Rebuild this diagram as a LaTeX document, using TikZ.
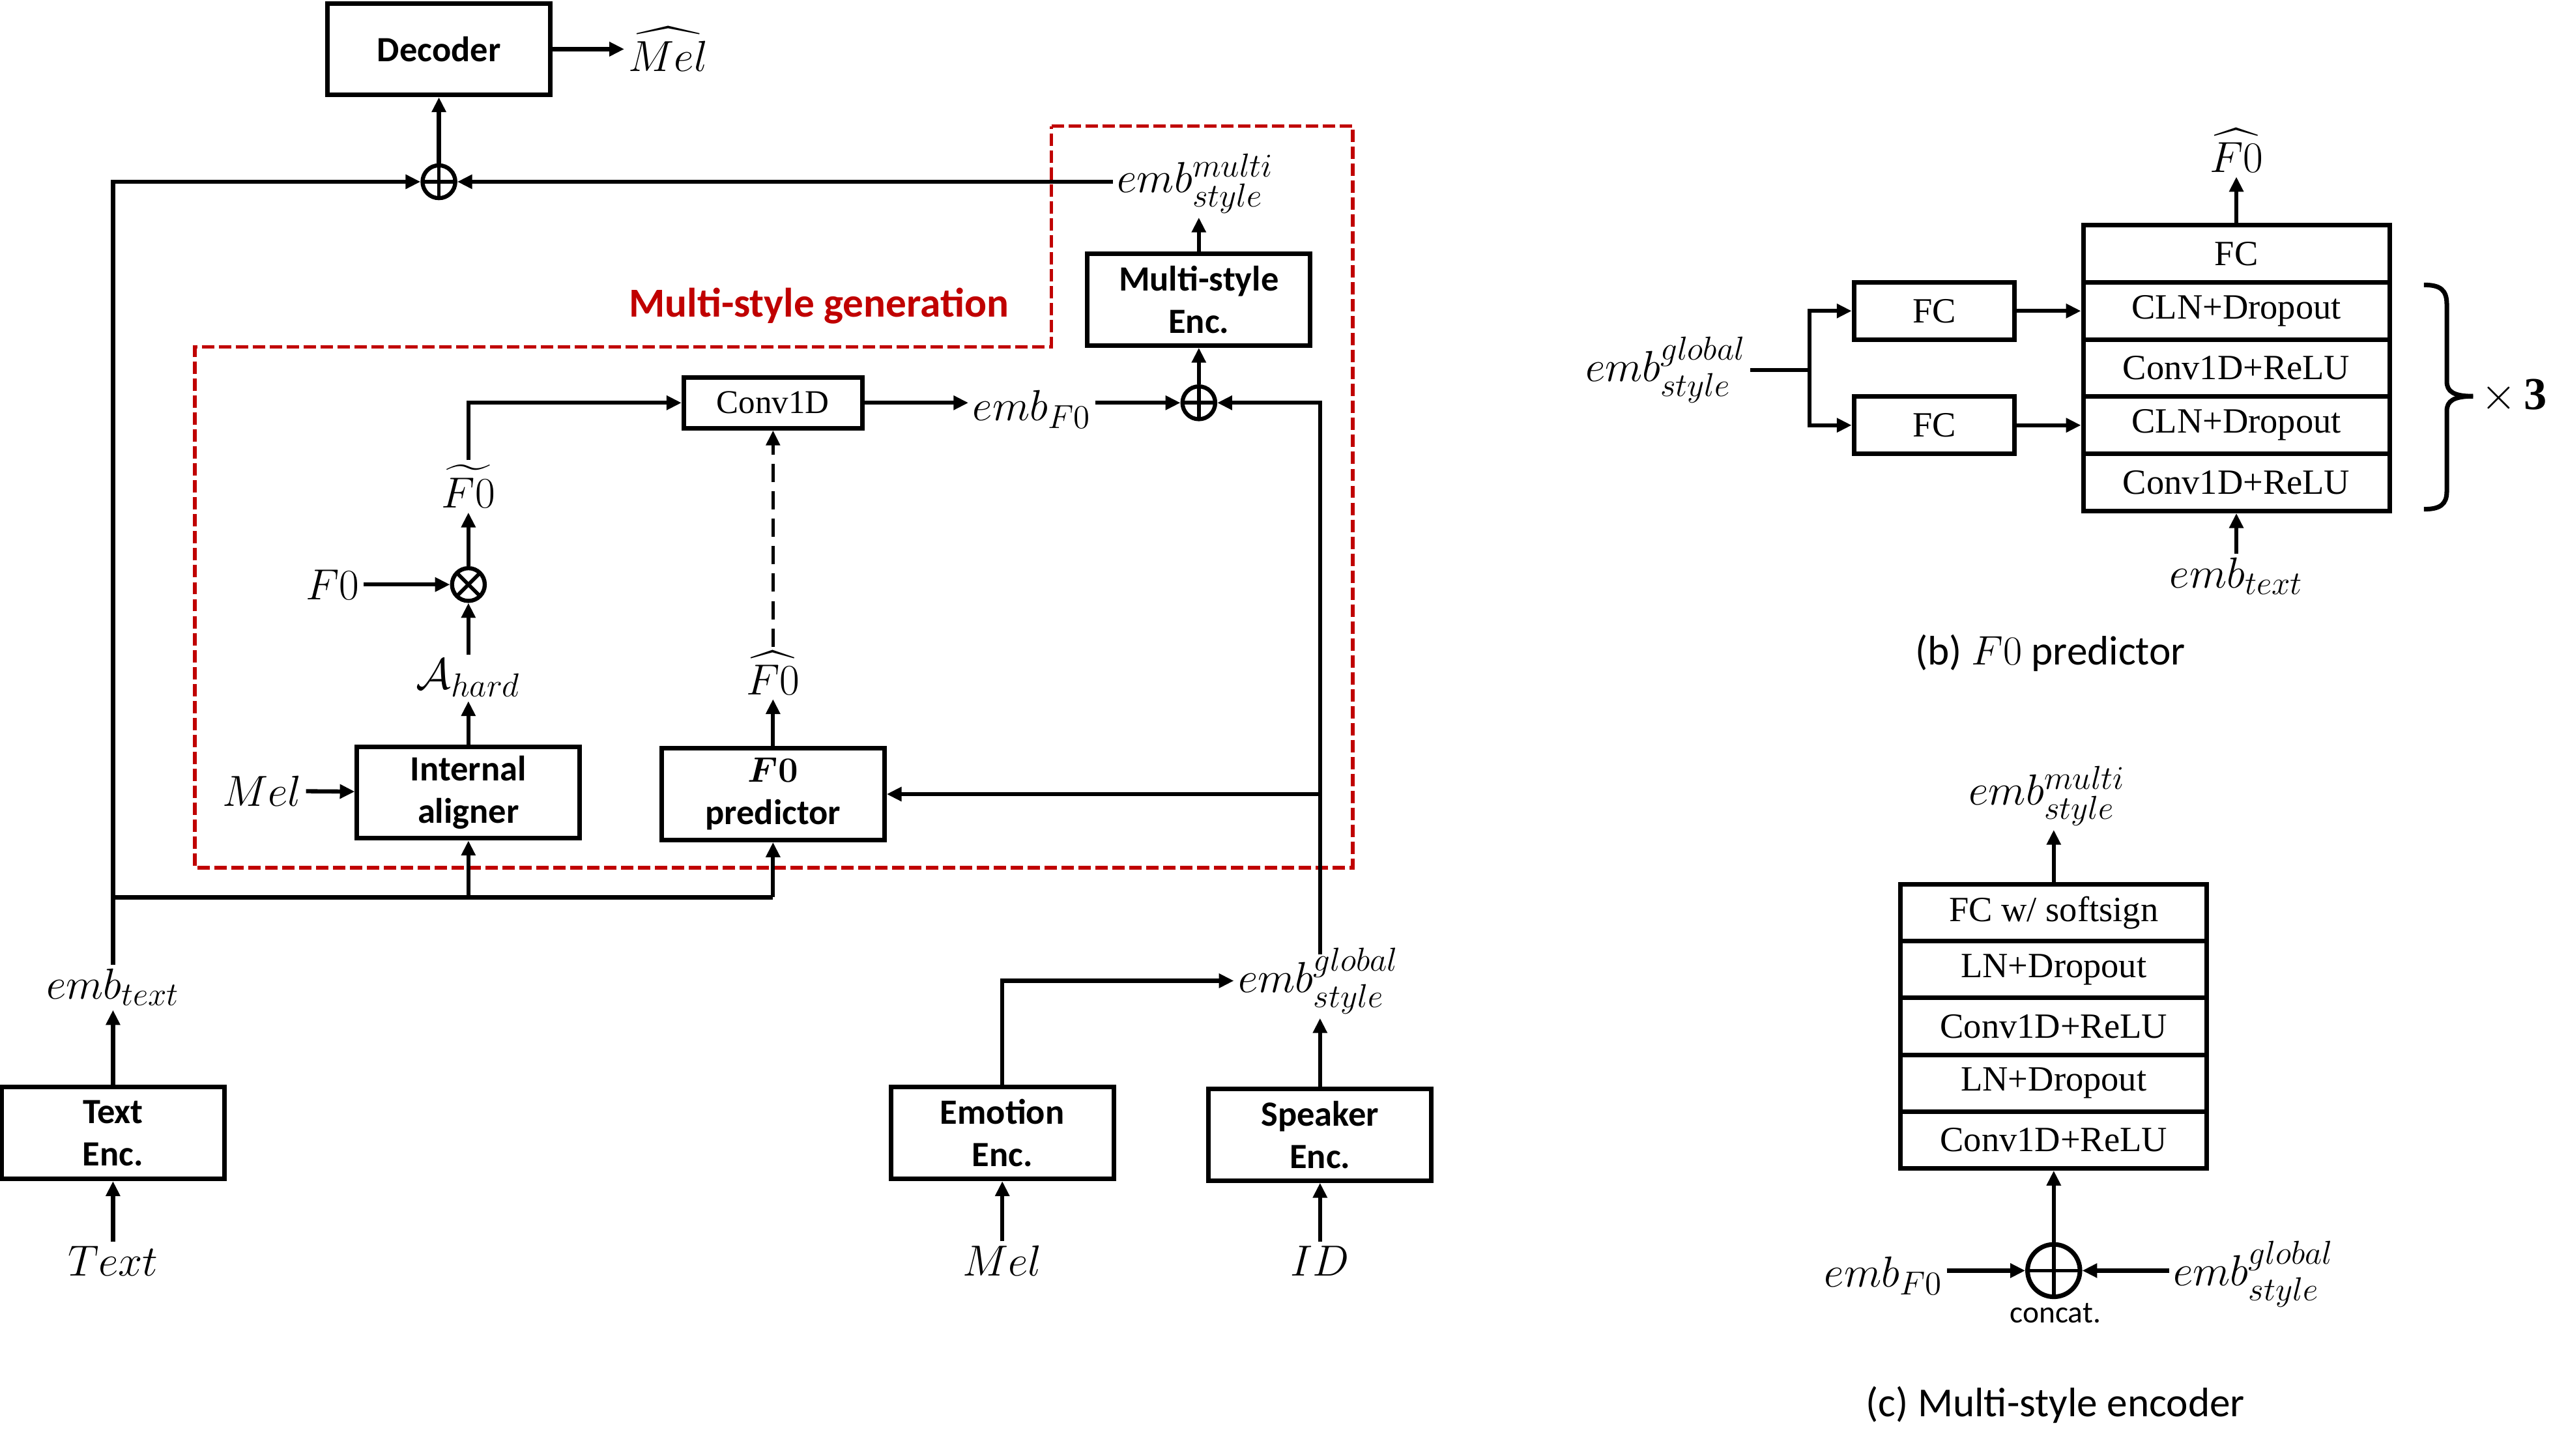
\RequirePackage{fix-cm}
\documentclass[tikz,border=0pt]{standalone}
\usepackage{amsmath,amssymb}
\usepackage{fontspec}
\newfontfamily\carl{Carlito}
\newfontfamily\tnr{Liberation Serif}
\usetikzlibrary{arrows.meta,calc}
\newcommand{\spx}{0.025134cm}
\definecolor{msred}{HTML}{C00000}
\DeclareMathSizes{19}{19}{14.5}{11}
\tikzset{
  blk/.style={draw, line width=2pt, minimum width=136*\spx, minimum height=56*\spx, inner sep=0pt, align=center, font={\carl\bfseries\fontsize{15.5}{18.5}\selectfont}},
  convbox/.style={draw, line width=2pt, minimum width=109*\spx, minimum height=31*\spx, inner sep=0pt, font={\tnr\fontsize{14.5}{17}\selectfont}},
  layer/.style={draw, line width=2pt, minimum width=187*\spx, minimum height=34.9*\spx, inner sep=0pt, font={\tnr\fontsize{15.5}{18}\selectfont}},
  fcbox/.style={draw, line width=2pt, minimum width=98*\spx, minimum height=35*\spx, inner sep=0pt, font={\tnr\fontsize{15.5}{18}\selectfont}},
  lab/.style={inner sep=1pt, font={\fontsize{19}{22}\selectfont}},
  capt/.style={inner sep=1pt, font={\carl\fontsize{18}{21}\selectfont}},
  oplus/.style={circle, draw, line width=1.8pt, minimum size=20*\spx, inner sep=0pt,
    path picture={\draw[line width=1.6pt] (path picture bounding box.north) -- (path picture bounding box.south) (path picture bounding box.west) -- (path picture bounding box.east);}},
  otimes/.style={circle, draw, line width=1.8pt, minimum size=20*\spx, inner sep=0pt,
    path picture={\draw[line width=1.6pt] (path picture bounding box.north west) -- (path picture bounding box.south east) (path picture bounding box.north east) -- (path picture bounding box.south west);}},
  reddash/.style={draw=msred, line width=1.5pt, dash pattern=on 5.4pt off 2pt},
  blackdash/.style={line width=1.4pt, dash pattern=on 8pt off 4pt}
}
\begin{document}
\begin{tikzpicture}[x=0.025134cm, y=-0.025134cm, line width=1.8pt, >={Triangle[length=6.5pt,width=6pt]}]
\useasboundingbox (0,0) rectangle (1568,889);

% ---------------- main diagram ----------------
\node[blk] (dec) at (268,30) {Decoder};
\node[lab] (melhat) at (408,30) {$\widehat{Mel}$};
\draw[->] (dec) -- (melhat);

\node[oplus] (s1) at (268,111) {};
\draw[->] (s1) -- (dec);

\node[lab] (embmulti) at (730,112) {$emb^{multi}_{style}$};
\draw[->] (embmulti.west |- s1) -- (s1);

\draw[reddash] (642,77) -- (826,77) -- (826,530) -- (119,530) -- (119,212) -- (642,212) -- cycle;
\node[inner sep=1pt, text=msred, font={\carl\bfseries\fontsize{18}{21}\selectfont}] (msg) at (500,187) {Multi-style generation};

\node[blk] (mse) at (732,183) {Multi-style\\Enc.};
\draw[->] (mse.north) -- (mse.north |- embmulti.south);

\node[oplus] (s2) at (732,246) {};
\draw[->] (s2) -- (mse);

\node[convbox] (conv) at (472,246) {Conv1D};
\node[lab] (embf0) at (630,250) {$emb_{F0}$};
\draw[->] (conv.east) -- (conv.east -| embf0.west);
\draw[->] (embf0.east |- s2) -- (s2);

\node[lab] (f0t) at (286,297) {$\widetilde{F0}$};
\draw[->] (f0t.north) |- (conv);

\node[otimes] (mul) at (286,357) {};
\draw[->] (mul) -- (f0t);
\node[lab] (f0in) at (203,357) {$F0$};
\draw[->] (f0in) -- (mul);

\node[lab] (ahard) at (286,414) {$\mathcal{A}_{hard}$};
\draw[->] (ahard) -- (mul);

\node[blk] (ia) at (286,484) {Internal\\aligner};
\draw[->] (ia) -- (ahard);
\node[lab] (melin) at (160,483) {$Mel$};
\draw[->] (melin) -- (ia);

\node[blk] (f0p) at (472,485) {{\boldmath$F0$}\\predictor};
\node[lab] (f0h) at (472,411) {$\widehat{F0}$};
\draw[->] (f0p) -- (f0h);
\draw[->, blackdash] (f0h) -- (conv);

% text branch
\node[blk] (tenc) at (69,692) {Text\\Enc.};
\node[lab] (txt) at (69,770) {$Text$};
\draw[->] (txt) -- (tenc);
\node[lab] (embtext) at (69,603) {$emb_{text}$};
\draw[->] (tenc) -- (embtext);
\draw[->] (embtext.north) |- (s1);
\coordinate (j1) at (69,548);
\coordinate (j2) at (472,548);
\draw (j1) -- (j2);
\draw[->] (j1 -| ia) -- (ia);
\draw[->] (j2) -- (f0p);

% style branch
\node[blk] (emo) at (612,692) {Emotion\\Enc.};
\node[lab] (melemo) at (612,770) {$Mel$};
\draw[->] (melemo) -- (emo);
\node[blk] (spk) at (806,693) {Speaker\\Enc.};
\node[lab] (idin) at (806,770) {$ID$};
\draw[->] (idin) -- (spk);
\node[lab] (embglob) at (805,599) {$emb^{global}_{style}$};
\draw[->] (spk) -- (spk.north |- embglob.south);
\draw[->] (emo.north) |- (embglob.west);
\coordinate (gtop) at (806,583);
\draw[->] (gtop) |- (s2);
\draw[->] (gtop |- f0p) -- (f0p);

% ---------------- (b) F0 predictor ----------------
\node[layer] (bfc) at (1365.5,155.0) {FC};
\node[layer] (bcln1) at (1365.5,189.9) {CLN+Dropout};
\node[layer] (bconv1) at (1365.5,224.8) {Conv1D+ReLU};
\node[layer] (bcln2) at (1365.5,259.7) {CLN+Dropout};
\node[layer] (bconv2) at (1365.5,294.6) {Conv1D+ReLU};
\node[lab] (bf0h) at (1365.5,92) {$\widehat{F0}$};
\draw[->] (bfc) -- (bf0h);
\node[lab] (bembt) at (1365.5,352) {$emb_{text}$};
\draw[->] (bembt) -- (bconv2);
\node[fcbox] (bfc1) at (1181,189.9) {FC};
\node[fcbox] (bfc2) at (1181,259.7) {FC};
\draw[->] (bfc1) -- (bcln1);
\draw[->] (bfc2) -- (bcln2);
\node[lab] (bembg) at (1017,226) {$emb^{global}_{style}$};
\coordinate (bsplit) at (1105,226);
\draw (bembg.east |- bsplit) -- (bsplit);
\draw[->] (bsplit) |- (bfc1);
\draw[->] (bsplit) |- (bfc2);
\draw[line width=2pt] (1480,174) .. controls (1490,174) and (1494,177) .. (1494,186) -- (1494,233) .. controls (1494,239) and (1498,242) .. (1510,242);
\draw[line width=2pt] (1510,242) .. controls (1498,242) and (1494,245) .. (1494,251) -- (1494,300) .. controls (1494,308) and (1490,311) .. (1480,311);
\node[inner sep=1pt, font={\fontsize{20}{24}\selectfont}] (times3) at (1535,242) {$\times$\,{\tnr\bfseries 3}};
\node[capt] (capb) at (1252,399) {(b) $F0$ predictor};

% ---------------- (c) Multi-style encoder ----------------
\node[layer, minimum height=34.7*\spx] (cfc) at (1254,557.4) {FC w/ softsign};
\node[layer, minimum height=34.7*\spx] (cln1) at (1254,592.1) {LN+Dropout};
\node[layer, minimum height=34.7*\spx] (cconv1) at (1254,626.8) {Conv1D+ReLU};
\node[layer, minimum height=34.7*\spx] (cln2) at (1254,661.5) {LN+Dropout};
\node[layer, minimum height=34.7*\spx] (cconv2) at (1254,696.2) {Conv1D+ReLU};
\node[lab] (cembm) at (1250,486) {$emb^{multi}_{style}$};
\draw[->] (cfc.north) -- (cfc.north |- cembm.south);
\node[oplus, minimum size=32*\spx, line width=2pt] (cc) at (1254,776) {};
\draw[->] (cc) -- (cconv2);
\node[lab] (cemf) at (1150,779) {$emb_{F0}$};
\draw[->] (cemf.east |- cc) -- (cc);
\node[lab] (ceg) at (1376,778) {$emb^{global}_{style}$};
\draw[->] (ceg.west |- cc) -- (cc);
\node[inner sep=1pt, font={\carl\fontsize{13.5}{16}\selectfont}] (concat) at (1255,802) {concat.};
\node[capt] (capc) at (1255,858) {(c) Multi-style encoder};
\end{tikzpicture}
\end{document}
